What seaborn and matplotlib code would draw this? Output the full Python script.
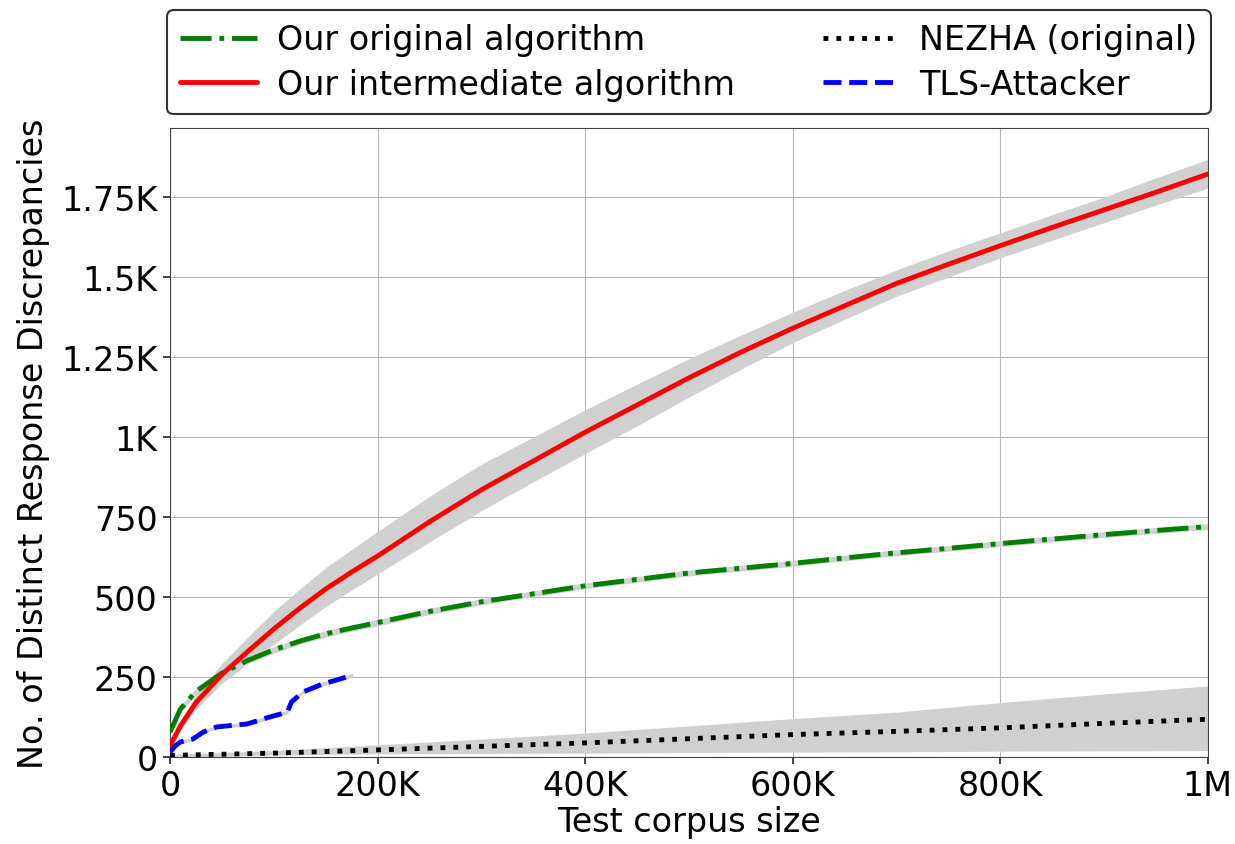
import numpy as np
import pandas as pd
import seaborn as sns
import matplotlib.pyplot as plt
from matplotlib.ticker import FuncFormatter

# values
x_main = [0, 10e3, 25e3, 50e3, 75e3, 100e3, 125e3, 150e3, 175e3, 200e3, 250e3, 300e3, 350e3, 400e3,
          450e3, 500e3, 550e3, 600e3, 650e3, 700e3, 750e3, 800e3, 850e3, 900e3, 950e3, 1e6]

inter_mean = [35, 97, 170, 258, 330, 400, 465, 525, 578, 628, 735, 835, 925, 1015,
              1100, 1185, 1265, 1340, 1410, 1480, 1540, 1598, 1655, 1710, 1765, 1822]
inter_low = [25, 85, 150, 230, 292, 352, 412, 470, 522, 572, 672, 770, 860, 948,
             1035, 1125, 1212, 1295, 1368, 1440, 1500, 1560, 1615, 1670, 1725, 1778]
inter_high = [45, 112, 195, 292, 375, 455, 525, 592, 648, 705, 815, 915, 1000, 1085,
              1165, 1245, 1318, 1390, 1458, 1522, 1582, 1638, 1695, 1750, 1810, 1868]

orig_mean = [78, 150, 205, 262, 302, 335, 362, 385, 403, 420, 455, 485, 510, 535,
             555, 575, 590, 605, 622, 638, 652, 667, 681, 695, 708, 720]
orig_low = [70, 140, 195, 252, 292, 325, 352, 375, 393, 410, 445, 476, 501, 526,
            546, 566, 581, 596, 613, 629, 643, 658, 672, 686, 699, 711]
orig_high = [86, 160, 215, 272, 312, 345, 372, 395, 413, 430, 465, 494, 519, 544,
             564, 584, 599, 614, 631, 647, 661, 676, 690, 704, 717, 729]

x_nezha = [0, 100e3, 200e3, 300e3, 400e3, 500e3, 600e3, 700e3, 800e3, 900e3, 1e6]
nezha_mean = [5, 12, 22, 33, 44, 57, 70, 80, 91, 105, 118]
nezha_low = [0, 6, 10, 11, 12, 14, 15, 16, 18, 19, 20]
nezha_high = [8, 20, 38, 56, 75, 97, 120, 140, 170, 197, 222]

x_tls = [0, 5e3, 10e3, 22e3, 32e3, 45e3, 74e3, 96e3, 113e3, 117e3, 128e3, 147e3, 164e3, 176e3]
tls_mean = [15, 35, 47, 56, 78, 94, 103, 125, 140, 172, 203, 228, 244, 256]

sns.set_style("whitegrid", rc={
    "axes.edgecolor": "#444444",
    "axes.linewidth": 1.5,
    "grid.color": "#b8b8b8",
    "grid.linewidth": 1.0,
    "xtick.bottom": True,
    "ytick.left": True,
    "xtick.color": "#222222",
    "ytick.color": "#222222",
    "text.color": "black",
    "axes.labelcolor": "black",
})
plt.rcParams['font.family'] = ['DejaVu Sans']

fig = plt.figure(figsize=(12.35, 8.45), dpi=100)
ax = fig.add_axes([0.1377, 0.103, 0.978 - 0.1377, 0.847 - 0.103])

band = "#d0d0d0"
ax.fill_between(x_main, inter_low, inter_high, color=band, lw=0, zorder=1)
ax.fill_between(x_nezha, nezha_low, nezha_high, color=band, lw=0, zorder=1)
ax.fill_between(x_main, orig_low, orig_high, color=band, lw=0, zorder=1)
ax.fill_between(x_tls, np.array(tls_mean) - 6, np.array(tls_mean) + 6, color=band, lw=0, zorder=1)

lw = 3.5
sns.lineplot(x=x_main, y=orig_mean, ax=ax, color="green", lw=lw, linestyle="-.",
             label="Our original algorithm", zorder=3)
sns.lineplot(x=x_main, y=inter_mean, ax=ax, color="red", lw=lw, linestyle="-",
             label="Our intermediate algorithm", zorder=3)
sns.lineplot(x=x_nezha, y=nezha_mean, ax=ax, color="black", lw=lw, linestyle=":",
             label="NEZHA (original)", zorder=3)
sns.lineplot(x=x_tls, y=tls_mean, ax=ax, color="blue", lw=lw, linestyle="--",
             label="TLS-Attacker", zorder=3)

ax.set_xlim(0, 1e6)
ax.set_ylim(0, 1965)
ax.set_xticks([0, 200e3, 400e3, 600e3, 800e3, 1e6])
ax.set_yticks([0, 250, 500, 750, 1000, 1250, 1500, 1750])


def kfmt(v, pos):
    if v >= 1e6:
        return "%gM" % (v / 1e6)
    if v >= 1e3:
        return "%gK" % (v / 1e3)
    return "%g" % v


ax.xaxis.set_major_formatter(FuncFormatter(kfmt))
ax.yaxis.set_major_formatter(FuncFormatter(kfmt))
ax.tick_params(labelsize=24, length=5, width=1.2, pad=4, labelcolor="black")
ax.set_xlabel("Test corpus size", fontsize=24, labelpad=2)
ax.set_ylabel("No. of Distinct Response Discrepancies", fontsize=24, labelpad=8)

leg = ax.legend(loc="lower left", bbox_to_anchor=(-0.003, 1.022, 1.006, 0.17),
                mode="expand", ncol=2, fontsize=24, borderaxespad=0,
                handlelength=2.3, handletextpad=0.6, labelspacing=0.35,
                frameon=True, fancybox=True, framealpha=1, edgecolor="#333333")
leg.get_frame().set_linewidth(1.5)

fig.savefig("out.png", dpi=100)
